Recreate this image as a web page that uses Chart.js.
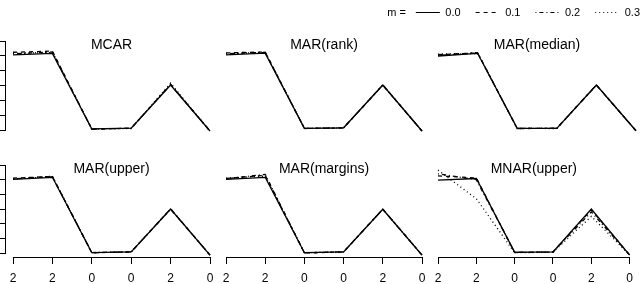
<!DOCTYPE html>
<html>
<head>
<meta charset="utf-8">
<script src="https://cdn.jsdelivr.net/npm/chart.js@4.4.1/dist/chart.umd.min.js"></script>
<style>
  html, body { margin: 0; padding: 0; background: #fff; overflow: hidden; }
  #wrap { position: relative; width: 641px; height: 284px; overflow: hidden; }
  #wrap canvas { position: absolute; left: 0; top: 0; }
</style>
</head>
<body>
<div id="wrap">
  <canvas id="legend" width="641" height="80" style="left:14px;top:-8px"></canvas>
</div>
<script>
// x tick labels and legend entries
const xLabels = ['2', '2', '0', '0', '2', '0'];
const mValues = ['0.0', '0.1', '0.2', '0.3'];

// one row per m value (0.0, 0.1, 0.2, 0.3)
const MCAR = [
  [5.06, 5.16, 0.07, 0.13, 3.03, -0.07],
  [5.24, 5.32, 0.06, 0.12, 3.06, -0.07],
  [5.14, 5.26, 0.05, 0.12, 3.08, -0.07],
  [5.18, 5.22, 0.06, 0.10, 3.16, -0.07]
];
const MAR_RANK = [
  [5.06, 5.18, 0.11, 0.15, 3.03, -0.07],
  [5.20, 5.26, 0.10, 0.14, 3.04, -0.07],
  [5.14, 5.24, 0.10, 0.15, 3.02, -0.07],
  [5.16, 5.22, 0.11, 0.14, 3.05, -0.07]
];
const MAR_MEDIAN = [
  [4.99, 5.17, 0.11, 0.11, 3.03, -0.05],
  [5.08, 5.20, 0.10, 0.11, 3.04, -0.05],
  [5.02, 5.22, 0.10, 0.12, 3.02, -0.05],
  [5.12, 5.16, 0.11, 0.10, 3.03, -0.05]
];
const MAR_UPPER = [
  [5.02, 5.16, 0.02, 0.07, 3.00, -0.14],
  [5.10, 5.22, 0.01, 0.08, 3.01, -0.14],
  [5.06, 5.20, 0.03, 0.07, 2.99, -0.14],
  [5.04, 5.24, 0.02, 0.09, 3.00, -0.14]
];
const MAR_MARGINS = [
  [5.02, 5.16, 0.02, 0.07, 2.98, -0.14],
  [5.08, 5.30, 0.00, 0.07, 2.99, -0.14],
  [5.06, 5.36, 0.01, 0.08, 2.98, -0.14],
  [5.10, 5.24, 0.02, 0.07, 2.99, -0.14]
];
const MNAR_UPPER = [
  [4.97, 5.08, 0.05, 0.07, 3.00, -0.14],
  [5.26, 5.12, 0.03, 0.07, 2.95, -0.14],
  [5.40, 5.00, 0.04, 0.06, 2.80, -0.14],
  [5.65, 3.70, 0.02, 0.05, 2.50, -0.14]
];

const panels = [
  { title: 'MCAR', series: MCAR, row: 0, col: 0 },
  { title: 'MAR(rank)', series: MAR_RANK, row: 0, col: 1 },
  { title: 'MAR(median)', series: MAR_MEDIAN, row: 0, col: 2 },
  { title: 'MAR(upper)', series: MAR_UPPER, row: 1, col: 0 },
  { title: 'MAR(margins)', series: MAR_MARGINS, row: 1, col: 1 },
  { title: 'MNAR(upper)', series: MNAR_UPPER, row: 1, col: 2 }
];

// plot regions (pixels) and line styles
const W = 641, H = 284;
const COL_LEFT = [13, 226, 438];
const COL_RIGHT = [210, 422, 636];
const ROW_TOP = [41, 165];
const ROW_BOTTOM = [130, 253];
const DASHES = [[], [4, 4], [1, 3, 4, 3], [1, 3]];
const LINE_W = 1.3;

Chart.defaults.font.family = "'Liberation Sans', Arial, Helvetica, sans-serif";
Chart.defaults.color = '#000';

// panel title drawn inside the top of the plot region
const panelTitle = {
  id: 'panelTitle',
  afterDraw(chart, args, opts) {
    const { ctx, chartArea } = chart;
    ctx.save();
    ctx.font = "14px 'Liberation Sans', Arial, sans-serif";
    ctx.fillStyle = '#000';
    ctx.textAlign = 'center';
    ctx.textBaseline = 'alphabetic';
    ctx.fillText(opts.text, (chartArea.left + chartArea.right) / 2, chartArea.top + 8);
    ctx.restore();
  }
};

const wrap = document.getElementById('wrap');

panels.forEach(p => {
  const canvas = document.createElement('canvas');
  canvas.width = W;
  canvas.height = H;
  wrap.appendChild(canvas);

  new Chart(canvas, {
    type: 'line',
    data: {
      labels: xLabels,
      datasets: p.series.map((vals, i) => ({
        label: mValues[i],
        data: vals,
        borderColor: '#000',
        borderWidth: LINE_W,
        borderDash: DASHES[i],
        pointRadius: 0,
        tension: 0,
        fill: false,
        clip: false
      }))
    },
    options: {
      responsive: false,
      animation: false,
      events: [],
      layout: {
        padding: {
          left: COL_LEFT[p.col],
          right: W - COL_RIGHT[p.col],
          top: ROW_TOP[p.row],
          bottom: H - ROW_BOTTOM[p.row]
        }
      },
      plugins: {
        legend: { display: false },
        tooltip: { enabled: false },
        panelTitle: { text: p.title }
      },
      scales: {
        x: {
          type: 'category',
          display: p.row === 1,
          offset: false,
          position: { y: -0.34 },
          afterFit: s => { s.height = 0; },
          grid: { drawOnChartArea: false, offset: false, tickLength: 6, color: '#000', lineWidth: 1 },
          border: { color: '#000', width: 1 },
          ticks: { maxRotation: 0, autoSkip: false, padding: 8, font: { size: 12 }, color: '#000' }
        },
        y: {
          display: p.col === 0,
          min: 0,
          max: 6,
          position: { x: -0.18 },
          afterFit: s => { s.width = 0; },
          grid: { drawOnChartArea: false, tickLength: 7, color: '#000', lineWidth: 1 },
          border: { color: '#000', width: 1 },
          ticks: { stepSize: 1, display: false }
        }
      }
    },
    plugins: [panelTitle]
  });
});

// "m =" label in front of the legend entries
const legendPrefix = {
  id: 'legendPrefix',
  afterDraw(chart) {
    const box = chart.legend.legendHitBoxes[0];
    const { ctx } = chart;
    ctx.save();
    ctx.font = "11px 'Liberation Sans', Arial, sans-serif";
    ctx.fillStyle = '#000';
    ctx.textAlign = 'right';
    ctx.textBaseline = 'middle';
    ctx.fillText('m =', box.left - 10, box.top + box.height / 2);
    ctx.restore();
  }
};

const defaultLabels = Chart.defaults.plugins.legend.labels.generateLabels;

new Chart(document.getElementById('legend'), {
  type: 'line',
  data: {
    labels: [],
    datasets: mValues.map((m, i) => ({
      label: m,
      data: [],
      borderColor: '#000',
      borderWidth: 1,
      borderDash: DASHES[i]
    }))
  },
  options: {
    responsive: false,
    animation: false,
    events: [],
    scales: { x: { display: false }, y: { display: false } },
    plugins: {
      tooltip: { enabled: false },
      legend: {
        position: 'top',
        align: 'end',
        labels: {
          usePointStyle: true,
          pointStyle: 'line',
          pointStyleWidth: 24,
          padding: 15,
          color: '#000',
          font: { size: 11 },
          // carry each dataset's dash pattern into its legend sample
          generateLabels: chart => defaultLabels(chart).map((item, i) => ({
            ...item,
            pointStyle: 'line',
            lineWidth: 1,
            strokeStyle: '#000',
            lineDash: chart.data.datasets[i].borderDash
          }))
        }
      }
    }
  },
  plugins: [legendPrefix]
});
</script>
</body>
</html>
